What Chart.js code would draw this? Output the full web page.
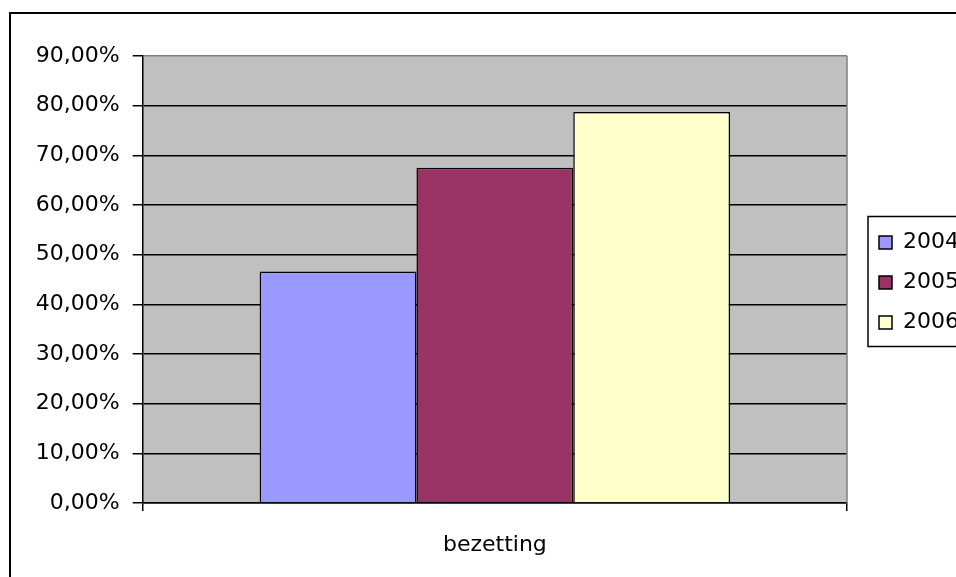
<!DOCTYPE html>
<html><head><meta charset="utf-8">
<script src="https://cdn.jsdelivr.net/npm/chart.js@4.4.1/dist/chart.umd.min.js"></script>
<style>html,body{margin:0;padding:0;overflow:hidden;background:#fff;width:956px;height:577px}canvas{display:block}</style>
</head><body>
<canvas id="c" width="1000" height="600"></canvas>
<script>
const categories = ['bezetting'];
const seriesNames = ['2004', '2005', '2006'];
const values2004 = [46.6];
const values2005 = [67.5];
const values2006 = [78.7];
const seriesColors = ['#9999FF', '#993366', '#FFFFCC'];
const yTickLabels = ['0,00%', '10,00%', '20,00%', '30,00%', '40,00%', '50,00%', '60,00%', '70,00%', '80,00%', '90,00%'];
const yStep = 10;
const yMax = 90;

const FONT = {family: 'DejaVu Sans', size: 22};

const decor = {
  id: 'decor',
  beforeDraw(chart) {
    const {ctx, chartArea: a} = chart;
    ctx.save();
    ctx.strokeStyle = '#000';
    ctx.lineWidth = 2;
    ctx.strokeRect(10, 13, 985, 582);
    ctx.fillStyle = '#C0C0C0';
    ctx.fillRect(a.left, a.top, a.right - a.left, a.bottom - a.top);
    ctx.restore();
  },
  beforeDatasetsDraw(chart) {
    const {ctx, chartArea: a} = chart;
    ctx.save();
    ctx.strokeStyle = '#808080';
    ctx.lineWidth = 1.5;
    ctx.beginPath();
    ctx.moveTo(a.right, a.top);
    ctx.lineTo(a.right, a.bottom);
    ctx.stroke();
    ctx.restore();
  },
  afterDraw(chart) {
    const lg = chart.legend;
    if (!lg || !lg.legendHitBoxes || !lg.legendHitBoxes.length) return;
    const hb = lg.legendHitBoxes;
    const last = hb[hb.length - 1];
    const {ctx} = chart;
    const x = hb[0].left - 11;
    const y0 = hb[0].top - 15;
    const y1 = last.top + last.height + 13;
    ctx.save();
    ctx.strokeStyle = '#000';
    ctx.lineWidth = 1.5;
    ctx.strokeRect(x, y0, 1000, y1 - y0);
    ctx.restore();
  }
};

new Chart(document.getElementById('c'), {
  type: 'bar',
  data: {
    labels: categories,
    datasets: [
      {label: seriesNames[0], data: values2004, backgroundColor: seriesColors[0], borderColor: '#000', borderWidth: 1.5},
      {label: seriesNames[1], data: values2005, backgroundColor: seriesColors[1], borderColor: '#000', borderWidth: 1.5},
      {label: seriesNames[2], data: values2006, backgroundColor: seriesColors[2], borderColor: '#000', borderWidth: 1.5}
    ]
  },
  options: {
    responsive: false,
    animation: false,
    devicePixelRatio: 1,
    color: '#000',
    categoryPercentage: 0.668,
    barPercentage: 1,
    layout: {padding: {top: 56, left: 0, bottom: 0, right: 31}},
    plugins: {
      legend: {
        position: 'right',
        align: 'center',
        fullSize: false,
        title: {display: true, text: '', font: {size: 5, lineHeight: 1.2}, padding: 0},
        labels: {font: FONT, color: '#000', boxWidth: 13, boxHeight: 13, padding: 18}
      },
      tooltip: {enabled: false},
      title: {display: false}
    },
    scales: {
      x: {
        ticks: {font: FONT, color: '#000', padding: 21},
        grid: {drawOnChartArea: false, drawTicks: true, tickLength: 8, color: '#000', lineWidth: 1.5},
        border: {display: true, color: '#000', width: 1.5},
        afterFit(s) { s.height = 97; }
      },
      y: {
        min: 0,
        max: yMax,
        ticks: {
          stepSize: yStep,
          font: FONT,
          color: '#000',
          padding: 13,
          callback: (v) => yTickLabels[Math.round(v / yStep)]
        },
        grid: {
          color: (c) => (c.tick && c.tick.value === yMax) ? '#808080' : '#000',
          tickColor: '#000',
          lineWidth: 1.5,
          tickLength: 10
        },
        border: {display: true, color: '#000', width: 1.5},
        afterFit(s) { s.width = 142.7; }
      },
      gap: {
        type: 'linear',
        position: 'right',
        display: true,
        grid: {display: false, drawTicks: false},
        ticks: {display: false},
        border: {display: false},
        afterFit(s) { s.width = 14; }
      }
    }
  },
  plugins: [decor]
});
</script>
</body></html>
